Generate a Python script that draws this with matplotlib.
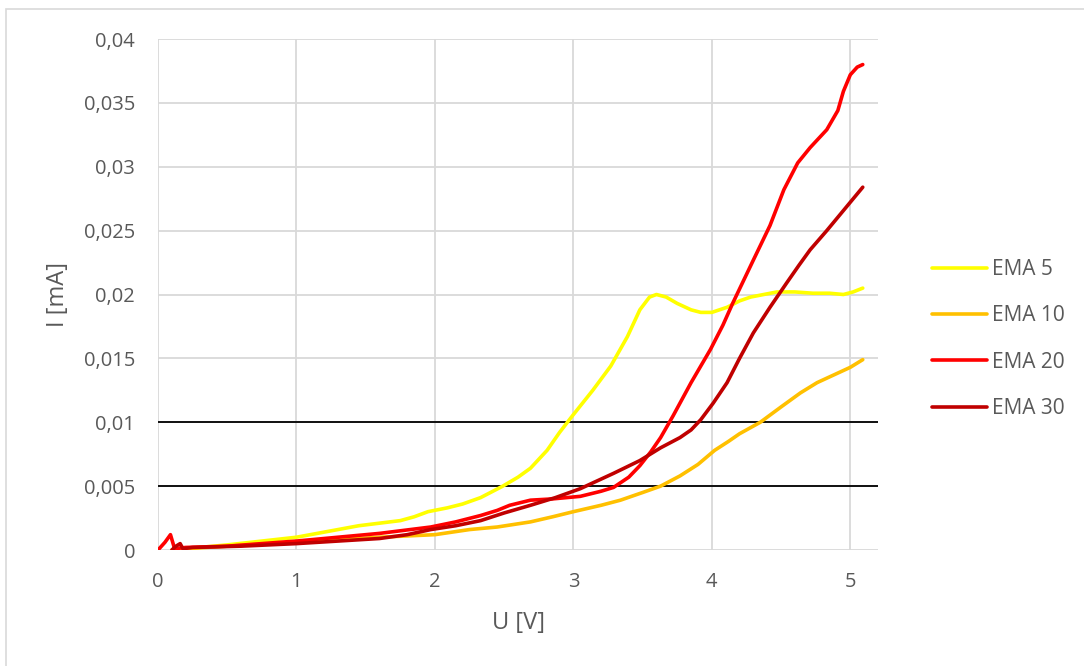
# I-U curves for the EMA samples, Excel-style line chart

import matplotlib.pyplot as plt
from matplotlib.patches import Rectangle
from matplotlib.ticker import FuncFormatter

# EMA 5 (yellow)
u_ema5 = [0.1, 0.3, 0.5, 0.75, 1.0, 1.15, 1.3, 1.45, 1.6, 1.75, 1.85, 1.95, 2.09, 2.2,
          2.33, 2.49, 2.6, 2.69, 2.81, 2.9, 3.0, 3.14, 3.27, 3.39, 3.48, 3.55, 3.6, 3.67,
          3.75, 3.85, 3.92, 4.0, 4.11, 4.2, 4.28, 4.47, 4.6, 4.73, 4.85, 4.95, 5.02, 5.09]
i_ema5 = [0.0, 0.0002, 0.0004, 0.0007, 0.001, 0.0013, 0.0016, 0.0019, 0.0021, 0.0023,
          0.0026, 0.003, 0.0033, 0.0036, 0.0041, 0.005, 0.0057, 0.0064, 0.0078, 0.0092,
          0.0106, 0.0125, 0.0144, 0.0167, 0.0188, 0.0198, 0.02, 0.0198, 0.0193, 0.0188,
          0.0186, 0.0186, 0.019, 0.0195, 0.0198, 0.0202, 0.0202, 0.0201, 0.0201, 0.02,
          0.0202, 0.0205]

# EMA 10 (orange)
u_ema10 = [0.2, 0.5, 1.0, 1.3, 1.6, 2.0, 2.25, 2.45, 2.69, 2.85, 3.0, 3.2, 3.34, 3.5,
           3.63, 3.77, 3.9, 4.02, 4.12, 4.2, 4.35, 4.5, 4.64, 4.76, 4.88, 5.0, 5.09]
i_ema10 = [0.0001, 0.0003, 0.0006, 0.0008, 0.001, 0.0012, 0.0016, 0.0018, 0.0022,
           0.0026, 0.003, 0.0035, 0.0039, 0.0045, 0.005, 0.0058, 0.0067, 0.0078, 0.0085,
           0.0091, 0.01, 0.0112, 0.0123, 0.0131, 0.0137, 0.0143, 0.0149]

# EMA 20 (red)
u_ema20 = [0.0, 0.05, 0.09, 0.12, 0.2, 0.5, 1.0, 1.3, 1.6, 1.97, 2.15, 2.33, 2.45, 2.54,
           2.69, 2.85, 3.05, 3.2, 3.29, 3.4, 3.48, 3.56, 3.63, 3.72, 3.85, 3.99, 4.08,
           4.15, 4.3, 4.42, 4.52, 4.62, 4.71, 4.83, 4.91, 4.95, 5.0, 5.05, 5.09]
i_ema20 = [0.0, 0.0006, 0.0012, 0.0001, 0.0002, 0.0003, 0.0007, 0.001, 0.0013, 0.0018,
           0.0022, 0.0027, 0.0031, 0.0035, 0.0039, 0.004, 0.0042, 0.0046, 0.0049, 0.0057,
           0.0066, 0.0077, 0.0088, 0.0105, 0.0131, 0.0157, 0.0176, 0.0193, 0.0227,
           0.0254, 0.0282, 0.0303, 0.0315, 0.0329, 0.0344, 0.0359, 0.0372, 0.0378, 0.038]

# EMA 30 (dark red)
u_ema30 = [0.1, 0.13, 0.16, 0.18, 0.25, 0.6, 1.0, 1.3, 1.6, 1.8, 1.97, 2.15, 2.33, 2.5,
           2.69, 2.87, 3.05, 3.29, 3.48, 3.63, 3.77, 3.85, 3.92, 4.01, 4.11, 4.2, 4.3,
           4.42, 4.54, 4.63, 4.71, 4.83, 4.96, 5.09]
i_ema30 = [0.0, 0.0003, 0.0005, 0.0001, 0.0002, 0.0003, 0.0005, 0.0007, 0.0009, 0.0012,
           0.0016, 0.0019, 0.0023, 0.0029, 0.0035, 0.0041, 0.0048, 0.006, 0.007, 0.008,
           0.0088, 0.0094, 0.0102, 0.0115, 0.0131, 0.015, 0.017, 0.019, 0.0209, 0.0223,
           0.0235, 0.025, 0.0267, 0.0284]

series = [
    ("EMA 5", u_ema5, i_ema5, "#FFFF00"),
    ("EMA 10", u_ema10, i_ema10, "#FFC000"),
    ("EMA 20", u_ema20, i_ema20, "#FF0000"),
    ("EMA 30", u_ema30, i_ema30, "#C00000"),
]

y_ticks = [0, 0.005, 0.01, 0.015, 0.02, 0.025, 0.03, 0.035, 0.04]
x_ticks = [0, 1, 2, 3, 4, 5]

plt.rcParams['font.family'] = ['Open Sans', 'DejaVu Sans']
text_color = '#595959'

fig = plt.figure(figsize=(10.84, 6.66), dpi=100)
# light frame around the chart area, as in the Excel export
fig.patches.append(Rectangle((6 / 1084, -0.05), 1.1, 1.05 - 9 / 666, transform=fig.transFigure,
                             fill=False, edgecolor='#d9d9d9', linewidth=1.2))
ax = fig.add_axes([158 / 1084, 1 - 550 / 666, 720 / 1084, 511 / 666])

for name, u, i, color in series:
    ax.plot(u, i, color=color, linewidth=2.6, label=name, solid_capstyle='round',
            solid_joinstyle='round', zorder=3)

ax.set_xlim(0, 5.2)
ax.set_ylim(0, 0.04)
ax.set_xticks(x_ticks)
ax.set_yticks(y_ticks)

fmt = FuncFormatter(lambda v, pos: ('%g' % v).replace('.', ','))
ax.xaxis.set_major_formatter(fmt)
ax.yaxis.set_major_formatter(fmt)

ax.grid(True, color='#d9d9d9', linewidth=1.3, zorder=0)
# the 0,005 and 0,01 lines are drawn black
for yl in (0.005, 0.01):
    ax.axhline(yl, color='black', linewidth=1.3, zorder=2)

for s in ax.spines.values():
    s.set_visible(False)
ax.tick_params(length=0, labelsize=14.5, colors=text_color)
ax.tick_params(axis='x', pad=16)
ax.tick_params(axis='y', pad=16.5)

ax.set_xlabel('U [V]', fontsize=17, color=text_color, va='top')
ax.set_ylabel('I [mA]', fontsize=17, color=text_color)
ax.xaxis.set_label_coords(0.5, -0.12)
ax.yaxis.set_label_coords(-0.122, 0.5)

leg = ax.legend(loc='center left', bbox_to_anchor=(1.049, 0.413), frameon=False,
                fontsize=15, labelcolor=text_color, handlelength=2.64,
                labelspacing=1.22, handletextpad=0.25)

plt.savefig('out.png', dpi=100)
